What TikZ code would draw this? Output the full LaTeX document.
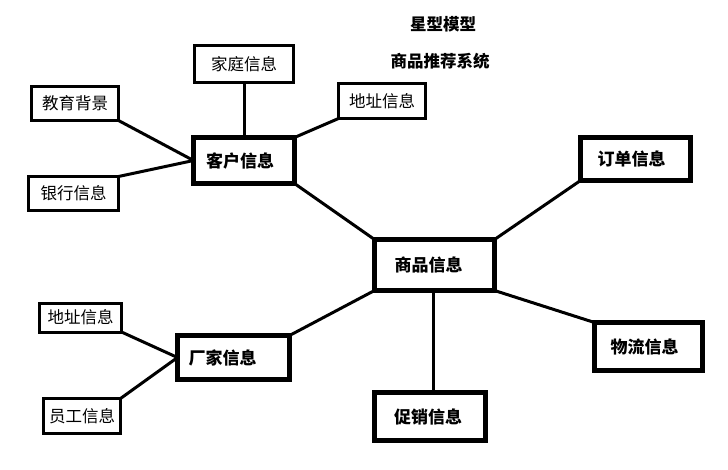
\documentclass[tikz,border=0pt]{standalone}
\usepackage{fontspec}
\usepackage{tikz}
\newfontfamily\cjk{Noto Sans CJK SC}

\begin{document}
\begin{tikzpicture}[x=1pt,y=-1pt,
    info/.style={draw,rectangle,line width=3pt,outer sep=0pt,inner sep=0pt,
      font=\cjk\fontsize{16.5}{19}\selectfont},
    main/.style={draw,rectangle,line width=5pt,outer sep=0pt,inner sep=0pt,
      font=\cjk\bfseries\fontsize{17}{20}\selectfont},
    title/.style={font=\cjk\bfseries\fontsize{16.5}{19}\selectfont},
    link/.style={line width=3pt}]
    \useasboundingbox (0,0) rectangle (728,469);

    \node[title] (xingxing) at (443,24) {星型模型};
    \node[title] (xitong) at (440,61) {商品推荐系统};

    \node[main,minimum width=101pt,minimum height=46pt] (kehu) at (244,160.5) {客户信息\hspace*{8pt}};
    \node[main,minimum width=120pt,minimum height=51pt] (shangpin) at (434.5,265) {商品信息\hspace*{12pt}};
    \node[main,minimum width=110pt,minimum height=43pt] (dingdan) at (635.5,159) {订单信息\hspace*{8pt}};
    \node[main,minimum width=108pt,minimum height=48pt] (wuliu) at (648.5,346.5) {物流信息\hspace*{8pt}};
    \node[main,minimum width=111pt,minimum height=48pt] (cuxiao) at (430,416.5) {促销信息\hspace*{4pt}};
    \node[main,minimum width=112pt,minimum height=44pt] (changjia) at (233.5,357.5) {厂家信息\hspace*{22pt}};

    \node[info,minimum width=99pt,minimum height=37pt] (jiating) at (244,64) {家庭信息};
    \node[info,minimum width=87pt,minimum height=34pt] (jiaoyu) at (75,103.5) {教育背景};
    \node[info,minimum width=90pt,minimum height=34pt] (yinhang) at (73.5,193.5) {银行信息};
    \node[info,minimum width=87pt,minimum height=35pt] (kehudizhi) at (382,101) {地址信息};
    \node[info,minimum width=82pt,minimum height=29pt] (changjiadizhi) at (80.5,317.5) {地址信息};
    \node[info,minimum width=77pt,minimum height=35pt] (yuangong) at (82,416) {员工信息};

    % customer side
    \draw[link] (jiating.south) -- (kehu.north);
    \draw[link] (jiaoyu.south east) -- (kehu.west);
    \draw[link] (yinhang.north east) -- (kehu.west);
    \draw[link] (kehudizhi.south west) -- (kehu.north east);
    \draw[link] (kehu.south east) -- (shangpin.north west);

    % product hub
    \draw[link] (cuxiao.north -| 433,0) -- (shangpin.south -| 433,0);
    \draw[link] (dingdan.south west) -- (shangpin.north east);
    \draw[link] (wuliu.north west) -- (shangpin.south east);
    \draw[link] (changjia.north east) -- (shangpin.south west);

    % maker side
    \draw[link] (changjiadizhi.south east) -- (changjia.west);
    \draw[link] (yuangong.north east) -- (changjia.west);
\end{tikzpicture}
\end{document}
